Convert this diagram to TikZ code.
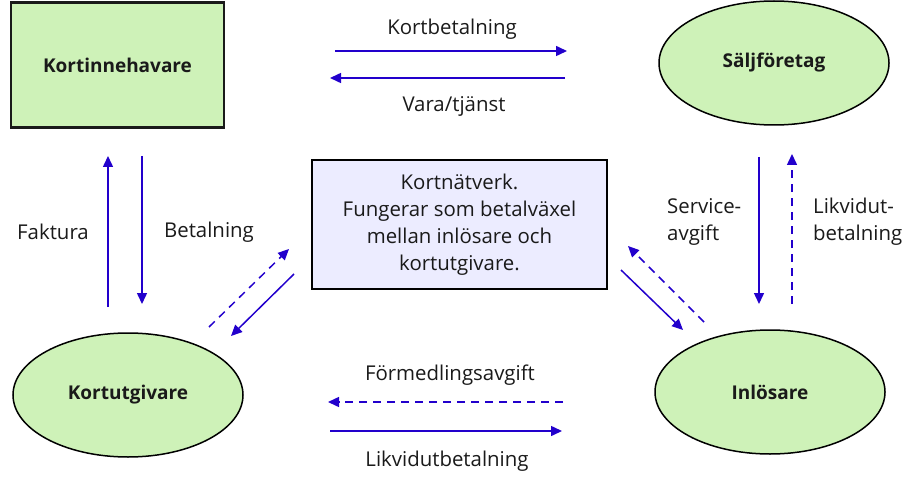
\documentclass[tikz,border=0pt]{standalone}
\usepackage{fontspec}
\setmainfont{Open Sans}
\usetikzlibrary{shapes, arrows.meta, positioning}
\newlength{\ellw}
\setlength{\ellw}{230pt}
\newlength{\ellh}
\setlength{\ellh}{124pt}
\definecolor{partycolor}{RGB}{206, 242, 184}
\definecolor{netcolor}{RGB}{236, 236, 255}
\definecolor{flowcolor}{RGB}{34, 0, 204}
\definecolor{textcolor}{RGB}{26, 26, 26}
\tikzset{party/.style={draw=black, line width=1.5pt, fill=partycolor, text=textcolor, font=\bfseries\fontsize{19}{24}\selectfont}}
\tikzset{holder/.style={party, rectangle, draw=textcolor, line width=2.5pt, minimum width=213pt, minimum height=125pt}}
\tikzset{firm/.style={party, ellipse, minimum width=\ellw, minimum height=\ellh, inner sep=0pt}}
\tikzset{network/.style={draw=black, line width=1.5pt, fill=netcolor, text=textcolor, minimum width=295pt, minimum height=129pt, align=center, font=\fontsize{20.4}{27}\selectfont}}
\tikzset{flowlabel/.style={text=textcolor, inner sep=0pt, font=\fontsize{20.4}{27}\selectfont}}
\tikzset{flow/.style={draw=flowcolor, line width=1.5pt, -{Triangle[length=11pt,width=10pt]}}}
\tikzset{flowdash/.style={flow, dash pattern=on 8pt off 6pt}}

\begin{document}
\begin{tikzpicture}[x=1pt, y=-1pt]
	\useasboundingbox (0,0) rectangle (920,481);
	
	%%% NODES %%%
	
	% PARTIES
	\node[holder] at (117.5,65) (kortinnehavare) {Kortinnehavare};
	\node[firm] at (774,63) (saljforetag) {Säljföretag};
	\node[firm] at (128,395) (kortutgivare) {Kortutgivare};
	\node[firm] at (770,392) (inlosare) {Inlösare};
	
	% CARD NETWORK
	\node[network] at (459.5,224.5) (kortnatverk) {Kortnätverk.\\Fungerar som betalväxel\\mellan inlösare och\\kortutgivare.};
	
	% LABELS
	\node[flowlabel] at (452,29) (lkortbetalning) {Kortbetalning};
	\node[flowlabel] at (454,106) (lvara) {Vara/tjänst};
	\node[flowlabel] at (53,232) (lfaktura) {Faktura};
	\node[flowlabel] at (209,232) (lbetalning) {Betalning};
	\node[flowlabel, anchor=west, align=left] at (667,222) (lservice) {Service-\\avgift};
	\node[flowlabel, anchor=west, align=left] at (813,222) (llikvid) {Likvidut-\\betalning};
	\node[flowlabel] at (450,375) (lformedling) {Förmedlingsavgift};
	\node[flowlabel] at (447,461) (llikvidutbetalning) {Likvidutbetalning};
	
	
	%%% EXTRA ARROW NODES %%%
	\node[coordinate] at (335,51) (kb0) {};
	\node[coordinate] at (567,51) (kb1) {};
	\node[coordinate] at (565,78) (vt0) {};
	\node[coordinate] at (330,78) (vt1) {};
	\node[coordinate] at (108,307) (fa0) {};
	\node[coordinate] at (108,156) (fa1) {};
	\node[coordinate] at (142,156) (be0) {};
	\node[coordinate] at (142,304) (be1) {};
	\node[coordinate] at (209,327) (ku0) {};
	\node[coordinate] at (289,249) (ku1) {};
	\node[coordinate] at (294,274) (ku2) {};
	\node[coordinate] at (231,336) (ku3) {};
	\node[coordinate] at (704,322) (in0) {};
	\node[coordinate] at (628,246) (in1) {};
	\node[coordinate] at (621,270) (in2) {};
	\node[coordinate] at (683,330) (in3) {};
	\node[coordinate] at (759,157) (sa0) {};
	\node[coordinate] at (759,304) (sa1) {};
	\node[coordinate] at (792,304) (lb0) {};
	\node[coordinate] at (792,154) (lb1) {};
	\node[coordinate] at (563,402) (fm0) {};
	\node[coordinate] at (328,402) (fm1) {};
	\node[coordinate] at (330,431) (lu0) {};
	\node[coordinate] at (562,431) (lu1) {};
	
	
	%%% ARROWS %%%
	
	% KORTINNEHAVARE - SALJFORETAG
	\draw[flow] (kb0) -- (kb1);
	\draw[flow] (vt0) -- (vt1);
	
	% KORTINNEHAVARE - KORTUTGIVARE
	\draw[flow] (fa0) -- (fa1);
	\draw[flow] (be0) -- (be1);
	
	% KORTUTGIVARE - KORTNATVERK
	\draw[flowdash] (ku0) -- (ku1);
	\draw[flow] (ku2) -- (ku3);
	
	% INLOSARE - KORTNATVERK
	\draw[flowdash] (in0) -- (in1);
	\draw[flow] (in2) -- (in3);
	
	% SALJFORETAG - INLOSARE
	\draw[flow] (sa0) -- (sa1);
	\draw[flowdash] (lb0) -- (lb1);
	
	% INLOSARE - KORTUTGIVARE
	\draw[flowdash] (fm0) -- (fm1);
	\draw[flow] (lu0) -- (lu1);
	
\end{tikzpicture}
\end{document}
